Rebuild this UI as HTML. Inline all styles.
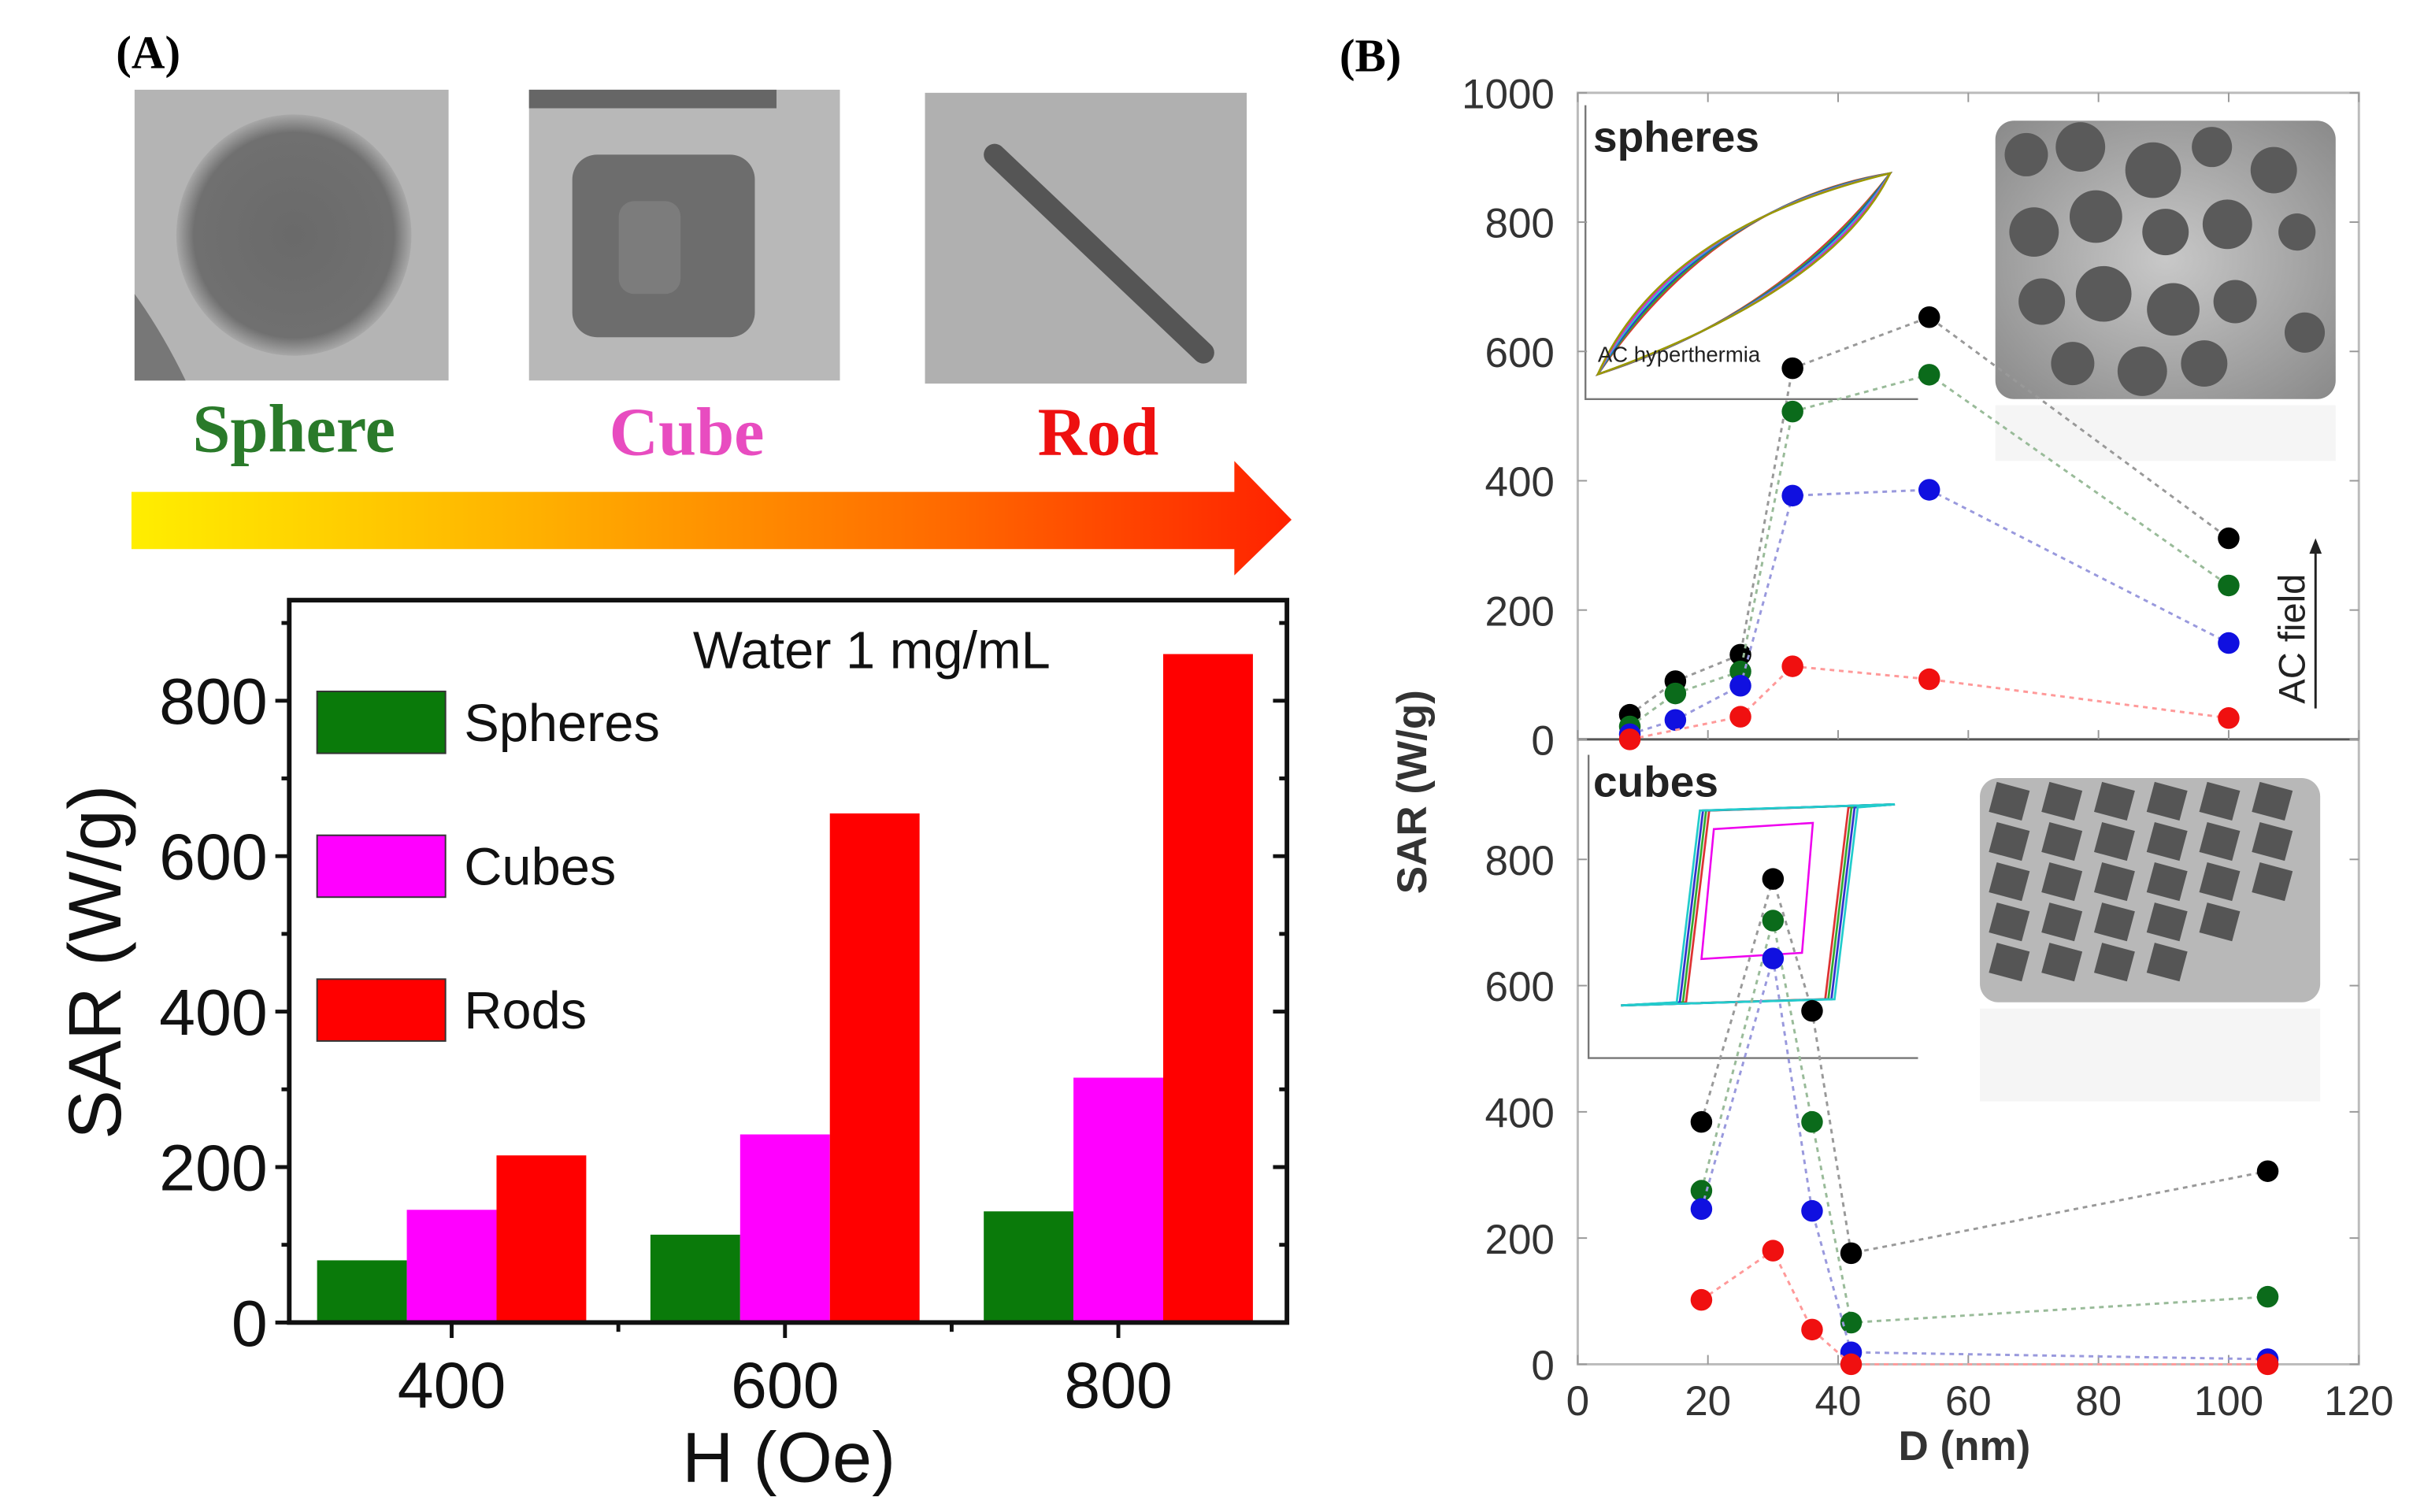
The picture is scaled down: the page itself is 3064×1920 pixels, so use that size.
<!DOCTYPE html>
<html><head><meta charset="utf-8"><style>
html,body{margin:0;padding:0;background:#fff;}
svg{display:block;}
text{font-family:"Liberation Sans",Arial,sans-serif;}
</style></head><body>
<svg id="fig" width="3064" height="1920" viewBox="0 0 1560 977.5" preserveAspectRatio="none">
<defs>
<linearGradient id="arrowGrad" x1="0" x2="1" y1="0" y2="0">
<stop offset="0" stop-color="#ffee00"/><stop offset="0.35" stop-color="#ffb000"/><stop offset="0.7" stop-color="#ff6a00"/><stop offset="1" stop-color="#ff2200"/></linearGradient>
<radialGradient id="sphG"><stop offset="0" stop-color="#6a6a6a"/><stop offset="0.85" stop-color="#707070"/><stop offset="1" stop-color="#a8a8a8"/></radialGradient>
<radialGradient id="temG" cx="0.5" cy="0.5" r="0.7"><stop offset="0" stop-color="#c8c8c8"/><stop offset="1" stop-color="#8a8a8a"/></radialGradient>
</defs>
<rect width="1560" height="977.5" fill="#fff"/>

<text x="75" y="44" font-weight="bold" font-size="30" style="font-family:'Liberation Serif',serif">(A)</text>
<g>
<rect x="87" y="58" width="203" height="188" fill="#b4b4b4"/>
<ellipse cx="190" cy="152" rx="76" ry="78" fill="url(#sphG)"/>
<path d="M87 190 Q105 215 120 246 L87 246Z" fill="#777"/>
</g>
<g>
<rect x="342" y="58" width="201" height="188" fill="#b8b8b8"/>
<rect x="342" y="58" width="160" height="12" fill="#666"/>
<rect x="370" y="100" width="118" height="118" rx="16" fill="#6d6d6d"/>
<rect x="400" y="130" width="40" height="60" rx="10" fill="#7c7c7c"/>
</g>
<g>
<rect x="598" y="60" width="208" height="188" fill="#b0b0b0"/>
<line x1="643" y1="100" x2="778" y2="228" stroke="#555" stroke-width="14" stroke-linecap="round"/>
</g>
<text x="190" y="292" text-anchor="middle" font-size="44" font-weight="bold" fill="#2a7a2a" style="font-family:'Liberation Serif',serif">Sphere</text>
<text x="444" y="294" text-anchor="middle" font-size="44" font-weight="bold" fill="#e84cc0" style="font-family:'Liberation Serif',serif">Cube</text>
<text x="710" y="294" text-anchor="middle" font-size="44" font-weight="bold" fill="#ee1010" style="font-family:'Liberation Serif',serif">Rod</text>
<path d="M85 318 L798 318 L798 298 L835 336 L798 372 L798 355 L85 355Z" fill="url(#arrowGrad)"/>

<g id="barChart"></g>
<g id="scatter"></g>
</svg>
<script>
const NS='http://www.w3.org/2000/svg';
function mk(parent,tag,attrs,txt){const e=document.createElementNS(NS,tag);for(const k in attrs)e.setAttribute(k,attrs[k]);if(txt!==undefined)e.textContent=txt;parent.appendChild(e);return e;}

// ---------- Panel A data ----------
const fields=[400,600,800];
const spheresSAR=[80,113,143];
const cubesSAR=[145,242,315];
const rodsSAR=[215,655,860];
const barYTicks=[0,200,400,600,800];
const barSeriesNames=['Spheres','Cubes','Rods'];

// ---------- Panel B data ----------
const sphD=[8,15,25,33,54,100];
const sphBlack=[38,90,131,574,653,311];
const sphGreen=[20,71,105,507,564,238];
const sphBlue=[8,30,83,377,386,149];
const sphRed=[0,null,35,113,93,33];
const cubeD=[19,30,36,42,106];
const cubeBlack=[384,769,560,176,306];
const cubeGreen=[275,703,384,66,107];
const cubeBlue=[246,643,243,19,8];
const cubeRed=[102,180,55,0,0];
const dTicks=[0,20,40,60,80,100,120];
const upperTicks=[0,200,400,600,800,1000];
const lowerTicks=[0,200,400,600,800];

// ----- bar chart -----
(function(){
const g=document.getElementById('barChart');
const L=187,R=832,T=388,B=855;
const xs=v=>292+(v-400)*(215.5/200);
const ys=v=>B-v*(402/800);
const bw=58;
const cols=['#0a7a0a','#ff00ff','#ff0000'];
const series=[spheresSAR,cubesSAR,rodsSAR];
series.forEach((s,si)=>{s.forEach((v,i)=>{
 const x=xs(fields[i])-bw*1.5+si*bw;
 const r=mk(g,'rect',{x:x,y:ys(v),width:bw,height:B-ys(v),fill:cols[si]});
 
 
});});
const ax=mk(g,'rect',{x:L,y:T,width:R-L,height:B-T,fill:'none',stroke:'#111','stroke-width':3});


for(let v=0;v<=900;v+=100){const y=ys(v);const big=v%200===0;
 mk(g,'line',{x1:L,x2:L-(big?9:5),y1:y,y2:y,stroke:'#111','stroke-width':2.5});
 mk(g,'line',{x1:R,x2:R-(big?9:5),y1:y,y2:y,stroke:'#111','stroke-width':2.5});}
barYTicks.forEach(v=>{const t=mk(g,'text',{x:L-14,y:ys(v)+15,'text-anchor':'end','font-size':42,fill:'#111'},String(v));
 });
fields.forEach(v=>{mk(g,'line',{x1:xs(v),x2:xs(v),y1:B,y2:B+10,stroke:'#111','stroke-width':2.5});
 const t=mk(g,'text',{x:xs(v),y:910,'text-anchor':'middle','font-size':42,fill:'#111'},String(v));
 });
[500,700].forEach(v=>mk(g,'line',{x1:xs(v),x2:xs(v),y1:B,y2:B+6,stroke:'#111','stroke-width':2.5}));
let t=mk(g,'text',{x:510,y:958,'text-anchor':'middle','font-size':46,fill:'#111'},'H (Oe)');

t=mk(g,'text',{x:0,y:0,transform:'translate(78,622) rotate(-90)','text-anchor':'middle','font-size':48,fill:'#111'},'SAR (W/g)');

t=mk(g,'text',{x:448,y:432,'font-size':34,fill:'#111'},'Water 1 mg/mL');

barSeriesNames.forEach((n,i)=>{const y=447+i*93;
 const r=mk(g,'rect',{x:205,y:y,width:83,height:40,fill:cols[i],stroke:'#333','stroke-width':1});
 
 const tt=mk(g,'text',{x:300,y:y+32,'font-size':34,fill:'#111'},n);
 });
})();

// ----- scatter chart -----
(function(){
const g=document.getElementById('scatter');
const L=1020,R=1525,T=60,M=478,B=882;
const xs=v=>L+v*((R-L)/120);
const yu=v=>M-v*((M-T)/1000);
const yl=v=>B-v*0.408;
let t=mk(g,'text',{x:866,y:46,'font-size':30,'font-weight':'bold',style:"font-family:'Liberation Serif',serif"},'(B)');

const ins=mk(g,'g',{});

mk(ins,'rect',{x:1290,y:78,width:220,height:180,rx:12,fill:'url(#temG)'});
[[1310,100,14],[1345,95,16],[1392,110,18],[1430,95,13],[1470,110,15],[1315,150,16],[1355,140,17],[1400,150,15],[1440,145,16],[1485,150,12],[1320,195,15],[1360,190,18],[1405,200,17],[1445,195,14],[1340,235,14],[1385,240,16],[1425,235,15],[1490,215,13]].forEach(c=>mk(ins,'circle',{cx:c[0],cy:c[1],r:c[2],fill:'#5a5a5a'}));
mk(ins,'rect',{x:1290,y:262,width:220,height:36,fill:'#eee',opacity:0.6});
mk(ins,'rect',{x:1280,y:503,width:220,height:145,rx:12,fill:'#b8b8b8'});
for(let i=0;i<6;i++)for(let j=0;j<5;j++){if(i+j>7&&j>2)continue;mk(ins,'rect',{x:1288+i*34,y:508+j*26,width:22,height:20,fill:'#555',transform:`rotate(15 ${1299+i*34} ${518+j*26})`});}
mk(ins,'rect',{x:1280,y:652,width:220,height:60,fill:'#eee',opacity:0.6});
mk(ins,'path',{d:'M1025 68 L1025 258 L1240 258',fill:'none',stroke:'#777','stroke-width':1.2});
['#d33','#3a3','#33c','#2cc','#c3c','#990'].forEach((c,i)=>{const k=i*7;
 mk(ins,'path',{d:`M1033 242 Q${1110-k} ${130+k*0.5} 1222 112 Q${1150+k} ${205-k*0.5} 1033 242Z`,fill:'none',stroke:c,'stroke-width':1.3});});
t=mk(g,'text',{x:1033,y:234,'font-size':14,fill:'#222'},'AC hyperthermia');

mk(ins,'path',{d:'M1027 488 L1027 684 L1240 684',fill:'none',stroke:'#777','stroke-width':1.2});
['#d33','#3a3','#33c','#2cc'].forEach((c,i)=>mk(ins,'path',{d:`M1048 650 L${1090-i*2} 648 L${1105-i*2} 524 L1225 520 L${1195+i*2} 522 L${1180+i*2} 646 Z`,fill:'none',stroke:c,'stroke-width':1.4}));
mk(ins,'path',{d:'M1100 620 L1108 536 L1172 532 L1165 616Z',fill:'none',stroke:'#e0e','stroke-width':1.3});
t=mk(g,'text',{x:1030,y:98,'font-size':28,'font-weight':'bold',fill:'#222'},'spheres');

t=mk(g,'text',{x:1030,y:515,'font-size':28,'font-weight':'bold',fill:'#222'},'cubes');

const fr=mk(g,'rect',{x:L,y:T,width:R-L,height:B-T,fill:'none',stroke:'#bbb','stroke-width':1.5});

mk(g,'line',{x1:L,x2:R,y1:M,y2:M,stroke:'#555','stroke-width':1.5});
upperTicks.forEach(v=>{const y=yu(v);mk(g,'line',{x1:L,x2:L+6,y1:y,y2:y,stroke:'#999'});mk(g,'line',{x1:R,x2:R-6,y1:y,y2:y,stroke:'#999'});
 const tt=mk(g,'text',{x:1005,y:y+10,'text-anchor':'end','font-size':27,fill:'#333'},String(v));
 });
lowerTicks.forEach(v=>{const y=yl(v);mk(g,'line',{x1:L,x2:L+6,y1:y,y2:y,stroke:'#999'});mk(g,'line',{x1:R,x2:R-6,y1:y,y2:y,stroke:'#999'});
 const tt=mk(g,'text',{x:1005,y:y+10,'text-anchor':'end','font-size':27,fill:'#333'},String(v));
 });
dTicks.forEach(v=>{const x=xs(v);mk(g,'line',{x1:x,x2:x,y1:B,y2:B-6,stroke:'#999'});mk(g,'line',{x1:x,x2:x,y1:M,y2:M-6,stroke:'#999'});mk(g,'line',{x1:x,x2:x,y1:T,y2:T+6,stroke:'#999'});
 const tt=mk(g,'text',{x:x,y:915,'text-anchor':'middle','font-size':27,fill:'#333'},String(v));
 });
t=mk(g,'text',{x:1270,y:944,'text-anchor':'middle','font-size':27,'font-weight':'bold',fill:'#333'},'D (nm)');

t=mk(g,'text',{x:0,y:0,transform:'translate(922,512) rotate(-90)','text-anchor':'middle','font-size':27,'font-weight':'bold',fill:'#333'},'SAR (W/g)');

t=mk(g,'text',{x:0,y:0,transform:'translate(1490,455) rotate(-90)','font-size':24,fill:'#222'},'AC field');

mk(g,'line',{x1:1497,x2:1497,y1:458,y2:356,stroke:'#222','stroke-width':1.5});
mk(g,'path',{d:'M1493 358 L1497 348 L1501 358Z',fill:'#222'});
function series(xsArr,vals,yf,col,lc,name){
 const pts=[];vals.forEach((v,i)=>{if(v!==null)pts.push([xs(xsArr[i]),yf(v)]);});
 const p=mk(g,'polyline',{points:pts.map(p=>p.join(',')).join(' '),fill:'none',stroke:lc,'stroke-width':1.5,'stroke-dasharray':'3,3'});
 
 pts.forEach(pt=>{const c=mk(g,'circle',{cx:pt[0],cy:pt[1],r:7,fill:col});
  });
}
const C=[['#000','#999','black'],['#0b6b1b','#9b9','green'],['#1010e0','#99d','blue'],['#f01010','#f99','red']];
[sphBlack,sphGreen,sphBlue,sphRed].forEach((s,i)=>series(sphD,s,yu,C[i][0],C[i][1],'spheres-'+C[i][2]));
[cubeBlack,cubeGreen,cubeBlue,cubeRed].forEach((s,i)=>series(cubeD,s,yl,C[i][0],C[i][1],'cubes-'+C[i][2]));
})();
</script>
</body></html>
